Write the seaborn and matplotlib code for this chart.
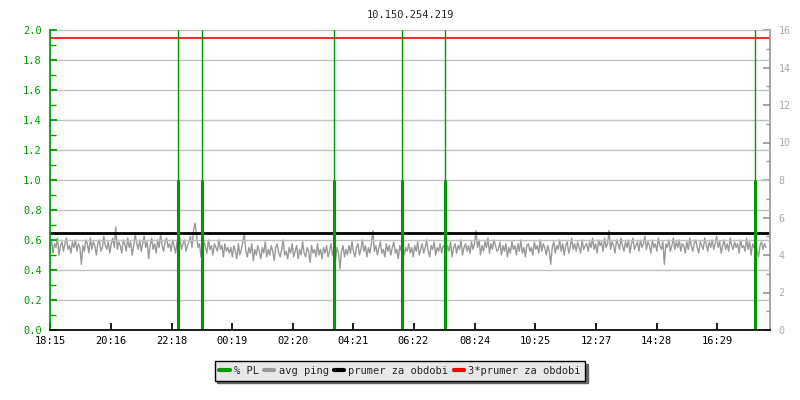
import numpy as np
import matplotlib
matplotlib.use('Agg')
import matplotlib.pyplot as plt
import seaborn as sns
from matplotlib.ticker import MultipleLocator
from matplotlib.lines import Line2D

# tick labels on the time axis (start 18:15)
time_labels = ['18:15', '20:16', '22:18', '00:19', '02:20', '04:21',
               '06:22', '08:24', '10:25', '12:27', '14:28', '16:29']

# packet loss events (minutes after 18:15) and their % PL
pl_times = [255, 303, 567, 703, 790, 1410]
pl_values = [1.0, 1.0, 1.0, 1.0, 1.0, 1.0]

# average ping [ms] (one value every ~3 min)
ping_ms = [
    4.3, 4.8, 4.1, 4.6, 4.4, 4.9, 4.0, 4.5, 4.7, 4.2, 4.6, 4.9, 4.3, 4.5, 4.1, 4.7, 4.4, 4.8, 4.2, 4.6,
    4.4, 3.5, 4.5, 4.2, 4.8, 4.6, 4.1, 4.9, 4.3, 4.7, 4.5, 4.0, 4.6, 4.8, 4.2, 4.4, 5.0, 4.5, 4.3, 4.7,
    4.1, 4.6, 4.9, 4.4, 5.5, 4.3, 4.7, 4.5, 4.1, 4.8, 4.6, 4.2, 4.9, 4.4, 4.7, 4.0, 4.5, 5.1, 4.6, 4.3,
    4.8, 4.2, 4.6, 5.0, 4.4, 4.7, 3.8, 4.5, 4.9, 4.3, 4.6, 4.1, 4.8, 4.4, 5.1, 4.5, 4.2, 4.7, 4.9, 4.4,
    4.6, 4.2, 4.8, 4.5, 4.1, 4.7, 4.4, 4.9, 4.3, 4.6, 4.8, 4.2, 4.5, 4.7, 5.0, 4.4, 5.3, 5.7, 5.1, 4.4,
    4.6, 3.9, 4.2, 4.7, 4.4, 4.1, 4.8, 4.3, 4.5, 4.0, 4.6, 4.4, 4.2, 4.8, 4.3, 4.5, 3.9, 4.6, 4.2, 4.4,
    4.1, 4.4, 3.9, 4.5, 4.2, 3.8, 4.6, 4.0, 4.3, 4.7, 5.15, 4.2, 3.9, 4.4, 4.1, 4.6, 3.7, 4.3, 4.0, 4.5,
    4.2, 3.8, 4.4, 4.1, 4.7, 3.9, 4.3, 4.0, 4.5, 4.2, 3.7, 4.4, 4.6, 4.1, 3.9, 4.3, 4.8, 4.0, 4.2, 3.8,
    4.4, 4.1, 4.6, 3.9, 4.2, 4.5, 3.8, 4.3, 4.0, 4.7, 4.1, 3.9, 4.4, 4.2, 3.6, 4.5, 4.1, 4.3, 3.9, 4.6,
    4.0, 4.3, 3.8, 4.4, 4.1, 4.5, 3.9, 4.2, 4.6, 4.0, 4.3, 3.7, 4.4, 4.1, 3.25, 4.2, 4.5, 3.9, 4.3, 4.0,
    4.5, 4.1, 4.7, 4.2, 3.9, 4.4, 4.6, 4.0, 4.3, 4.8, 4.2, 4.5, 3.9, 4.4, 4.1, 4.6, 5.3, 4.2, 4.5, 4.0,
    4.4, 4.7, 4.1, 4.3, 3.9, 4.6, 4.2, 4.5, 4.0, 4.4, 4.7, 4.1, 4.3, 3.8, 4.5, 4.2, 4.6, 4.0, 4.4, 4.2,
    4.6, 4.1, 4.4, 3.9, 4.5, 4.2, 4.7, 4.0, 4.3, 4.6, 4.1, 4.4, 4.8, 4.2, 3.9, 4.5, 4.3, 4.7, 4.0, 4.4,
    4.2, 4.6, 4.1, 4.5, 4.4, 4.0, 4.5, 4.2, 4.7, 3.9, 4.4, 4.6, 4.1, 4.5, 4.3, 4.8, 4.0, 4.4, 4.6, 4.2,
    4.5, 4.1, 4.7, 4.3, 4.6, 5.3, 4.4, 4.8, 4.0, 4.5, 4.2, 4.7, 4.4, 4.9, 4.1, 4.6, 4.3, 4.8, 4.5, 4.2,
    4.3, 4.7, 4.0, 4.5, 4.2, 4.6, 3.9, 4.4, 4.1, 4.7, 4.3, 4.5, 4.0, 4.6, 4.2, 4.8, 4.1, 4.4, 3.9, 4.5,
    4.6, 4.2, 4.4, 4.0, 4.7, 4.3, 4.5, 4.1, 4.8, 4.2, 4.6, 4.4, 4.0, 4.5, 4.2, 3.5, 4.4, 4.7, 4.1, 4.5,
    4.3, 4.8, 4.2, 4.6, 4.0, 4.5, 4.7, 4.1, 4.4, 4.9, 4.3, 4.6, 4.2, 4.7, 4.4, 4.1, 4.8, 4.3, 4.5, 4.6,
    4.2, 4.7, 4.4, 4.9, 4.3, 4.6, 4.1, 4.8, 4.5, 4.7, 4.2, 4.9, 4.4, 4.6, 5.3, 4.3, 4.7, 4.5, 4.1, 4.8,
    4.6, 4.3, 4.9, 4.5, 4.2, 4.7, 4.4, 4.8, 4.1, 4.6, 4.9, 4.3, 4.5, 4.7, 4.2, 4.8, 4.4, 4.6, 5.0, 4.3,
    4.7, 4.5, 4.1, 4.8, 4.4, 4.6, 4.2, 4.9, 4.5, 4.3, 4.7, 3.5, 4.6, 4.4, 4.8, 4.2, 4.5, 4.9, 4.3, 4.7,
    4.4, 4.8, 4.2, 4.6, 4.5, 4.1, 4.7, 4.3, 4.9, 4.5, 4.2, 4.6, 4.8, 4.4, 4.1, 4.7, 4.5, 4.3, 4.9, 4.6,
    4.2, 4.7, 4.4, 4.8, 4.3, 4.6, 5.0, 4.4, 4.7, 4.1, 4.5, 4.8, 4.3, 4.6, 4.2, 4.9, 4.5, 4.3, 4.7, 4.4,
    4.6, 4.1, 4.8, 4.4, 4.5, 4.2, 4.9, 4.3, 4.7, 4.0, 4.6, 4.4, 4.8, 4.2, 3.9, 4.5, 4.7, 4.3, 4.6, 4.4,
]
avg_ping = 5.2  # prumer za obdobi

GREEN = '#009900'
GREY = '#999999'

sns.set_theme(style='white')
plt.rcParams['font.family'] = ['DejaVu Sans Mono']
plt.rcParams['font.size'] = 7.5

# minutes after 18:15 for each time label
def to_min(s):
    h, m = map(int, s.split(':'))
    return ((h * 60 + m) - (18 * 60 + 15)) % 1440

tick_pos = [to_min(s) for s in time_labels]
ping_times = np.linspace(0, 1432, len(ping_ms))

fig = plt.figure(figsize=(8, 4), dpi=100)
ax = fig.add_axes([50 / 800, 70 / 400, 720 / 800, 300 / 400])
ax2 = ax.twinx()
ax.set_zorder(ax2.get_zorder() + 1)
ax.patch.set_visible(False)

# ping + averages on right axis
sns.lineplot(x=ping_times, y=ping_ms, ax=ax2, color=GREY, linewidth=1.0)
ax2.axhline(avg_ping, color='black', linewidth=2)
ax2.axhline(3 * avg_ping, color='#ff0000', linewidth=1.2)
ax2.set_ylim(0, 16)
ax2.yaxis.set_major_locator(MultipleLocator(2))
ax2.yaxis.set_minor_locator(MultipleLocator(1))
ax2.tick_params(axis='y', which='both', direction='in', colors=GREY,
                labelcolor='#aaaaaa', labelsize=7.2, pad=6, right=True)
ax2.tick_params(axis='y', which='major', length=5)
ax2.tick_params(axis='y', which='minor', length=3)
ax2.set_ylabel('')

# packet loss on left axis
ax.vlines(pl_times, 0, 2.0, color=GREEN, linewidth=1)
ax.vlines(pl_times, 0, pl_values, color=GREEN, linewidth=2.2)
ax.set_ylim(0, 2.0)
ax.set_xlim(0, 1440)
ax.yaxis.set_major_locator(MultipleLocator(0.2))
ax.yaxis.set_minor_locator(MultipleLocator(0.1))
ax.yaxis.set_major_formatter(plt.FormatStrFormatter('%.1f'))
ax.grid(True, axis='y', color='#c0c0c0', linewidth=1)
ax.grid(False, axis='x')
ax.tick_params(axis='y', which='both', direction='in', colors=GREEN,
               labelsize=7.5, pad=6, left=True)
ax.tick_params(axis='y', which='major', length=5)
ax.tick_params(axis='y', which='minor', length=4)
ax.set_xticks(tick_pos)
ax.set_xticklabels(time_labels)
ax.tick_params(axis='x', direction='in', length=5, colors='black', labelsize=7.5, pad=4, bottom=True)

for a in (ax, ax2):
    a.spines['top'].set_visible(False)
ax.spines['left'].set_color(GREEN)
ax.spines['bottom'].set_color('black')
ax.spines['right'].set_visible(False)
ax2.spines['left'].set_visible(False)
ax2.spines['bottom'].set_visible(False)
ax2.spines['right'].set_color(GREY)

ax.set_title('10.150.254.219', fontsize=7.5, pad=9)

handles = [Line2D([], [], color=GREEN, linewidth=3),
           Line2D([], [], color=GREY, linewidth=3),
           Line2D([], [], color='black', linewidth=3),
           Line2D([], [], color='#ff0000', linewidth=3)]
names = ['% PL', 'avg ping', 'prumer za obdobi', '3*prumer za obdobi']
leg = fig.legend(handles, names, loc='center', bbox_to_anchor=(0.5, 1 - 371 / 400),
                 ncol=4, frameon=True, fancybox=False, shadow={'color': '#666666', 'alpha': 1},
                 fontsize=7.5, handlelength=1.0, handletextpad=0.4, columnspacing=0.5,
                 borderpad=0.45, borderaxespad=0)
leg.get_frame().set_facecolor('#e8e8e8')
leg.get_frame().set_edgecolor('black')
leg.get_frame().set_linewidth(1)

fig.savefig('out.png', dpi=100)
